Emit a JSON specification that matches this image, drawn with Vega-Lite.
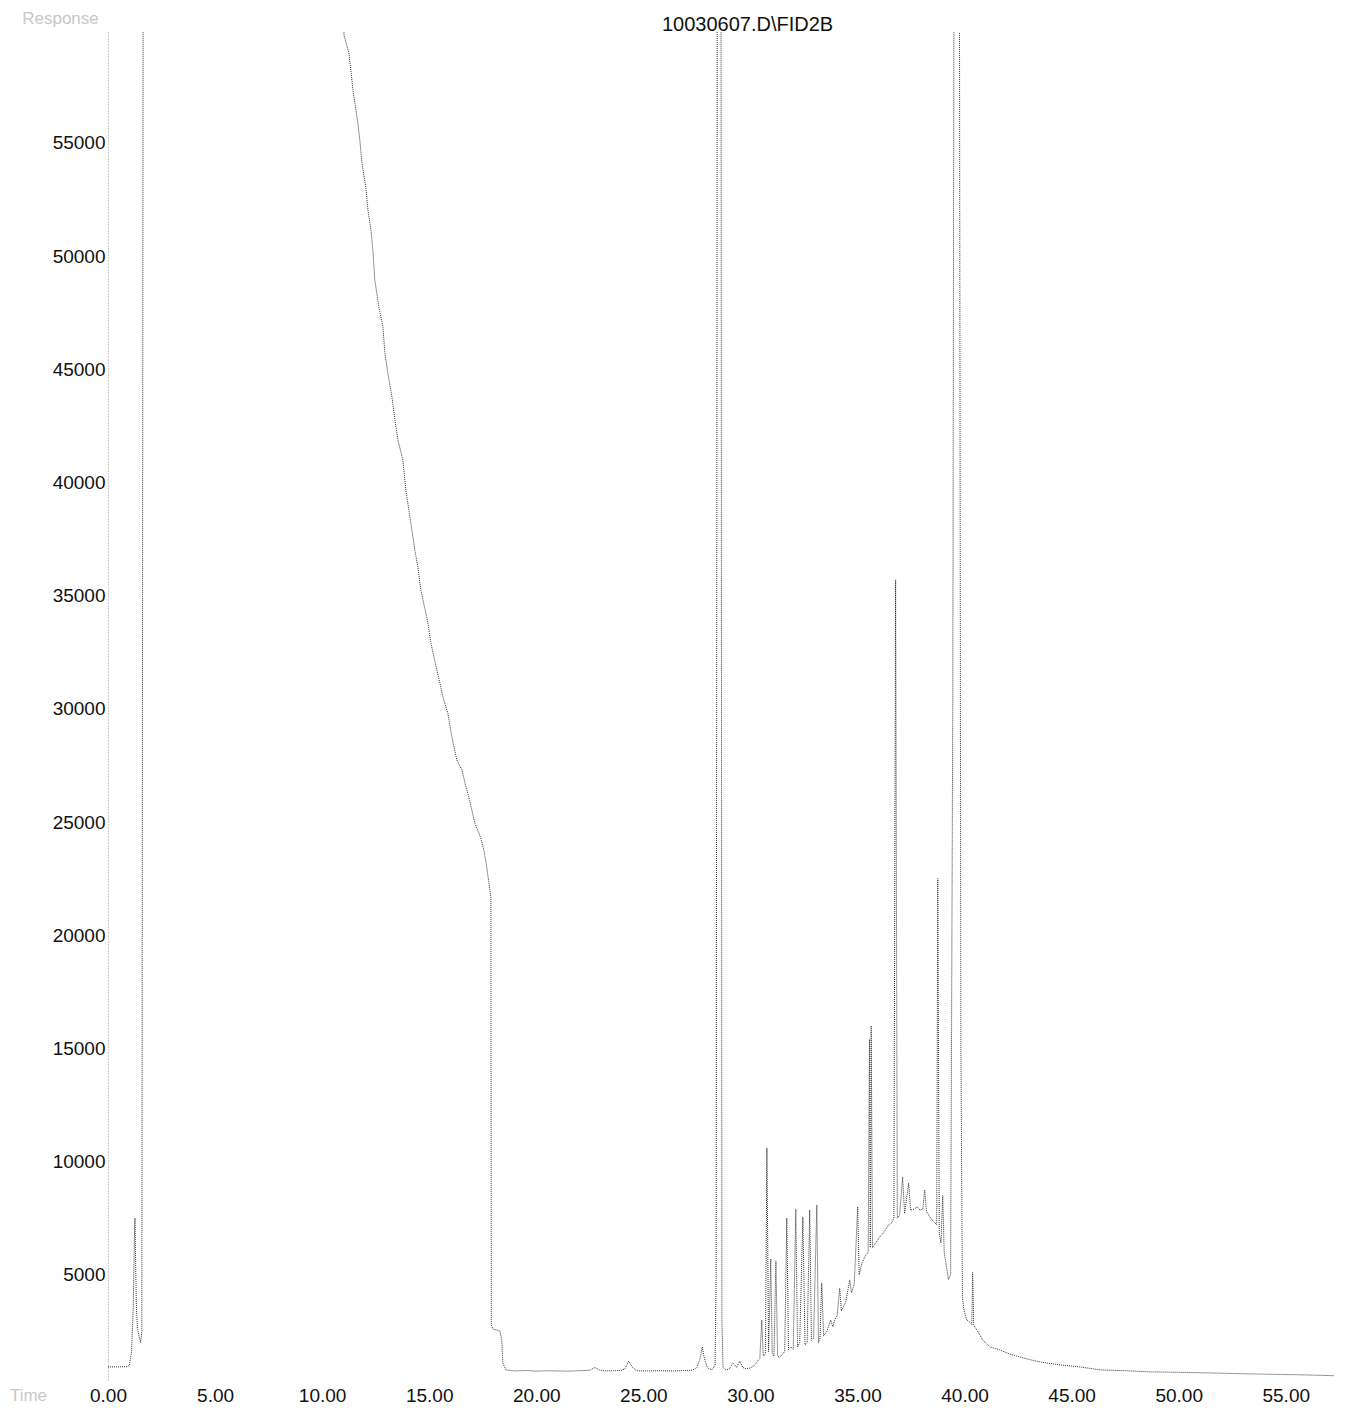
{
  "$schema": "https://vega.github.io/schema/vega-lite/v6.json",
  "autosize": {"type": "none"},
  "padding": {"left": 108, "top": 32, "right": 16, "bottom": 38},
  "width": 1227,
  "height": 1348,
  "background": "white",
  "config": {"view": {"stroke": null}, "font": "Liberation Sans"},
  "title": {"text": "10030607.D\\FID2B", "fontSize": 20, "fontWeight": "normal", "font": "Liberation Sans", "color": "#111", "anchor": "middle", "frame": "group", "dx": 26, "offset": -42, "baseline": "alphabetic"},
  "data": {"values": [
    {"t": 0.00, "v": 930}, {"t": 0.50, "v": 930}, {"t": 0.90, "v": 940}, {"t": 1.00, "v": 1000},
    {"t": 1.10, "v": 1600}, {"t": 1.18, "v": 3600}, {"t": 1.23, "v": 6500}, {"t": 1.26, "v": 7500},
    {"t": 1.29, "v": 5500}, {"t": 1.33, "v": 3500}, {"t": 1.38, "v": 2600}, {"t": 1.45, "v": 2300},
    {"t": 1.52, "v": 2000}, {"t": 1.58, "v": 2500}, {"t": 1.65, "v": 70000}, {"t": 11.00, "v": 70000},
    {"t": 11.02, "v": 59762}, {"t": 11.25, "v": 58967}, {"t": 11.34, "v": 58216}, {"t": 11.44, "v": 57333},
    {"t": 11.53, "v": 56758}, {"t": 11.67, "v": 55875}, {"t": 11.76, "v": 55124}, {"t": 11.86, "v": 54108},
    {"t": 12.04, "v": 53048}, {"t": 12.14, "v": 52032}, {"t": 12.28, "v": 51149}, {"t": 12.37, "v": 50265},
    {"t": 12.46, "v": 48940}, {"t": 12.65, "v": 47748}, {"t": 12.84, "v": 46864}, {"t": 12.93, "v": 45716},
    {"t": 13.07, "v": 44833}, {"t": 13.26, "v": 43773}, {"t": 13.40, "v": 42757}, {"t": 13.54, "v": 41873},
    {"t": 13.77, "v": 40990}, {"t": 13.91, "v": 39665}, {"t": 14.10, "v": 38472}, {"t": 14.33, "v": 37015},
    {"t": 14.47, "v": 36264}, {"t": 14.61, "v": 35248}, {"t": 14.71, "v": 34806}, {"t": 14.94, "v": 33790},
    {"t": 15.08, "v": 32907}, {"t": 15.22, "v": 32288}, {"t": 15.36, "v": 31714}, {"t": 15.50, "v": 31140},
    {"t": 15.64, "v": 30522}, {"t": 15.87, "v": 29815}, {"t": 16.06, "v": 28755}, {"t": 16.29, "v": 27739},
    {"t": 16.53, "v": 27298}, {"t": 16.67, "v": 26723}, {"t": 16.85, "v": 26105}, {"t": 17.13, "v": 24956},
    {"t": 17.41, "v": 24294}, {"t": 17.55, "v": 23763}, {"t": 17.65, "v": 23234}, {"t": 17.79, "v": 22306},
    {"t": 17.88, "v": 21688}, {"t": 17.90, "v": 2780}, {"t": 17.97, "v": 2606}, {"t": 18.30, "v": 2518},
    {"t": 18.39, "v": 2120}, {"t": 18.41, "v": 1590}, {"t": 18.44, "v": 1100}, {"t": 18.58, "v": 795},
    {"t": 19.0, "v": 750}, {"t": 19.5, "v": 770}, {"t": 20.0, "v": 740}, {"t": 20.5, "v": 760},
    {"t": 21.0, "v": 750}, {"t": 21.5, "v": 740}, {"t": 22.0, "v": 760}, {"t": 22.5, "v": 780},
    {"t": 22.74, "v": 900}, {"t": 22.95, "v": 800}, {"t": 23.2, "v": 750}, {"t": 23.6, "v": 760},
    {"t": 24.0, "v": 780}, {"t": 24.15, "v": 850}, {"t": 24.32, "v": 1190}, {"t": 24.5, "v": 900},
    {"t": 24.7, "v": 760}, {"t": 25.2, "v": 750}, {"t": 25.8, "v": 760}, {"t": 26.4, "v": 750},
    {"t": 27.0, "v": 770}, {"t": 27.3, "v": 790}, {"t": 27.5, "v": 900}, {"t": 27.65, "v": 1300},
    {"t": 27.75, "v": 1810}, {"t": 27.85, "v": 1300}, {"t": 27.95, "v": 1000}, {"t": 28.05, "v": 850},
    {"t": 28.2, "v": 800}, {"t": 28.35, "v": 1000}, {"t": 28.40, "v": 5000}, {"t": 28.46, "v": 70000},
    {"t": 28.62, "v": 70000}, {"t": 28.67, "v": 3000}, {"t": 28.72, "v": 900}, {"t": 28.85, "v": 800},
    {"t": 29.0, "v": 830}, {"t": 29.2, "v": 1100}, {"t": 29.35, "v": 900}, {"t": 29.5, "v": 1190},
    {"t": 29.65, "v": 900}, {"t": 29.8, "v": 850}, {"t": 30.0, "v": 880}, {"t": 30.2, "v": 1000},
    {"t": 30.35, "v": 1200}, {"t": 30.44, "v": 1300}, {"t": 30.53, "v": 3000}, {"t": 30.60, "v": 1400},
    {"t": 30.70, "v": 1500}, {"t": 30.77, "v": 10600}, {"t": 30.85, "v": 1600}, {"t": 30.95, "v": 5700},
    {"t": 31.02, "v": 1500}, {"t": 31.10, "v": 1400}, {"t": 31.19, "v": 5600}, {"t": 31.27, "v": 1400},
    {"t": 31.37, "v": 1350}, {"t": 31.50, "v": 1500}, {"t": 31.60, "v": 1600}, {"t": 31.70, "v": 7500},
    {"t": 31.78, "v": 1700}, {"t": 31.90, "v": 1800}, {"t": 32.00, "v": 1700}, {"t": 32.12, "v": 7900},
    {"t": 32.20, "v": 1800}, {"t": 32.30, "v": 2000}, {"t": 32.45, "v": 7550}, {"t": 32.55, "v": 1900},
    {"t": 32.65, "v": 2000}, {"t": 32.77, "v": 7860}, {"t": 32.85, "v": 2100}, {"t": 32.95, "v": 2200},
    {"t": 33.10, "v": 8080}, {"t": 33.18, "v": 2000}, {"t": 33.25, "v": 2200}, {"t": 33.33, "v": 4640},
    {"t": 33.42, "v": 2300}, {"t": 33.57, "v": 2500}, {"t": 33.75, "v": 3000}, {"t": 33.85, "v": 2700},
    {"t": 33.94, "v": 3000}, {"t": 34.05, "v": 3200}, {"t": 34.17, "v": 4400}, {"t": 34.25, "v": 3400},
    {"t": 34.35, "v": 3600}, {"t": 34.45, "v": 3800}, {"t": 34.64, "v": 4770}, {"t": 34.72, "v": 4200},
    {"t": 34.85, "v": 4600}, {"t": 35.01, "v": 8000}, {"t": 35.08, "v": 5000}, {"t": 35.20, "v": 5500},
    {"t": 35.35, "v": 5800}, {"t": 35.50, "v": 6000}, {"t": 35.56, "v": 15400}, {"t": 35.60, "v": 6200},
    {"t": 35.64, "v": 16000}, {"t": 35.70, "v": 6200}, {"t": 35.85, "v": 6400}, {"t": 36.04, "v": 6670},
    {"t": 36.25, "v": 6900}, {"t": 36.45, "v": 7200}, {"t": 36.60, "v": 7300}, {"t": 36.70, "v": 7500},
    {"t": 36.78, "v": 35700}, {"t": 36.86, "v": 7500}, {"t": 36.97, "v": 7640}, {"t": 37.11, "v": 9320},
    {"t": 37.20, "v": 7700}, {"t": 37.39, "v": 9050}, {"t": 37.48, "v": 7850}, {"t": 37.65, "v": 7900},
    {"t": 37.80, "v": 8000}, {"t": 37.91, "v": 7860}, {"t": 38.05, "v": 7900}, {"t": 38.14, "v": 8750},
    {"t": 38.22, "v": 7800}, {"t": 38.38, "v": 7550}, {"t": 38.50, "v": 7400}, {"t": 38.61, "v": 7300},
    {"t": 38.70, "v": 7200}, {"t": 38.75, "v": 22500}, {"t": 38.82, "v": 6800}, {"t": 38.90, "v": 6400},
    {"t": 38.98, "v": 8500}, {"t": 39.05, "v": 6000}, {"t": 39.15, "v": 5400}, {"t": 39.25, "v": 4800},
    {"t": 39.35, "v": 5000}, {"t": 39.45, "v": 30000}, {"t": 39.52, "v": 70000}, {"t": 39.75, "v": 70000},
    {"t": 39.83, "v": 15000}, {"t": 39.90, "v": 4000}, {"t": 39.98, "v": 3400}, {"t": 40.10, "v": 3000},
    {"t": 40.25, "v": 2900}, {"t": 40.34, "v": 2800}, {"t": 40.38, "v": 5100}, {"t": 40.43, "v": 2750},
    {"t": 40.55, "v": 2600}, {"t": 40.85, "v": 2120}, {"t": 41.18, "v": 1810}, {"t": 41.64, "v": 1680},
    {"t": 42.10, "v": 1500}, {"t": 42.58, "v": 1370}, {"t": 43.05, "v": 1250}, {"t": 43.51, "v": 1150},
    {"t": 44.00, "v": 1080}, {"t": 44.44, "v": 1020}, {"t": 45.38, "v": 930}, {"t": 46.31, "v": 800},
    {"t": 47.5, "v": 760}, {"t": 48.65, "v": 710}, {"t": 50.0, "v": 690}, {"t": 50.98, "v": 670},
    {"t": 52.0, "v": 650}, {"t": 53.31, "v": 620}, {"t": 54.5, "v": 600}, {"t": 55.65, "v": 580},
    {"t": 57.28, "v": 540}
  ]},
  "mark": {"type": "line", "clip": true, "color": "#333", "strokeWidth": 1, "strokeDash": [1, 1], "interpolate": "linear"},
  "encoding": {
    "x": {"field": "t", "type": "quantitative", "sort": null,
      "scale": {"domain": [0, 57.3], "nice": false, "zero": false},
      "axis": {"values": [0, 5, 10, 15, 20, 25, 30, 35, 40, 45, 50, 55], "format": ".2f", "grid": false, "domain": false, "ticks": false,
        "labelFontSize": 19, "labelFont": "Liberation Sans", "labelColor": "#111", "labelPadding": 6, "labelFlush": false,
        "title": "Time", "titleFontSize": 17, "titleFontWeight": "normal", "titleColor": "#c8c8c8", "titleX": -80, "titleY": 15, "titleAlign": "center", "titleBaseline": "middle"}},
    "y": {"field": "v", "type": "quantitative",
      "scale": {"domain": [350, 59900], "nice": false, "zero": false},
      "axis": {"values": [5000, 10000, 15000, 20000, 25000, 30000, 35000, 40000, 45000, 50000, 55000], "format": "d", "grid": false,
        "domain": true, "domainColor": "#999", "domainDash": [1, 2], "ticks": false,
        "labelFontSize": 19, "labelFont": "Liberation Sans", "labelColor": "#111", "labelPadding": 3,
        "title": "Response", "titleAngle": 0, "titleFontSize": 17, "titleFontWeight": "normal", "titleColor": "#c8c8c8", "titleX": -48, "titleY": -14, "titleAlign": "center", "titleBaseline": "middle"}}
  }
}
